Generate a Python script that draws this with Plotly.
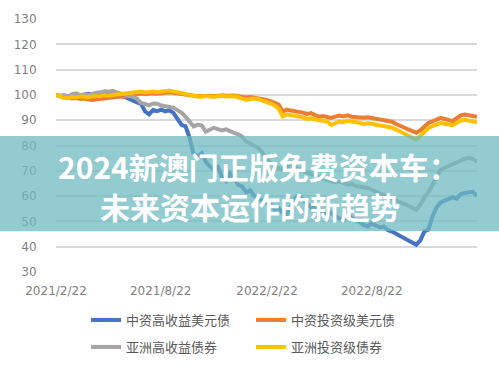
import pandas as pd
import plotly.graph_objects as go

start_date = "2021-02-22"
n_weeks = 105

cn_high_yield = [100.0, 99.6, 99.8, 99.4, 99.9, 100.2, 99.7, 100.1, 100.4, 100.0,
                 100.6, 100.4, 100.9, 100.7, 101.1, 100.6, 99.9, 99.2, 98.5, 97.4,
                 97.0, 96.5, 93.5, 92.3, 94.0, 93.6, 94.2, 93.5, 94.0, 92.9,
                 90.5, 88.2, 87.6, 83.0, 76.5, 75.8, 77.0, 73.5, 71.8, 70.5,
                 71.5, 67.5, 66.0, 69.0, 67.2, 64.5, 63.8, 61.5, 62.3, 60.0,
                 59.2, 58.0, 57.3, 56.5, 54.8, 55.3, 53.4, 52.8, 56.0, 59.0,
                 60.2, 58.6, 57.2, 55.5, 56.3, 54.2, 53.5, 53.0, 53.4, 52.0,
                 51.2, 50.8, 52.0, 51.6, 50.3, 49.8, 48.6, 48.0, 49.2, 48.5,
                 47.6, 47.9, 46.5, 46.0, 45.2, 44.3, 43.5, 42.6, 42.0, 40.8,
                 42.5, 46.0, 46.8, 52.0, 55.5, 57.5, 58.2, 58.8, 59.5, 59.0,
                 60.8, 61.2, 61.5, 61.7, 60.0]

cn_inv_grade = [100.0, 99.5, 99.0, 98.9, 98.6, 98.8, 98.4, 98.6, 98.2, 98.0,
                98.3, 98.5, 98.5, 98.8, 99.0, 99.1, 99.4, 99.3, 99.5, 99.9,
                100.2, 100.5, 100.3, 100.5, 100.6, 100.5, 100.8, 100.9, 101.0, 100.8,
                100.5, 100.3, 100.0, 99.9, 99.7, 99.5, 99.6, 99.8, 99.7, 99.5,
                99.7, 99.9, 99.7, 99.9, 99.8, 99.5, 99.3, 99.0, 99.2, 99.0,
                98.7, 98.4, 98.0, 97.5, 97.0, 96.2, 93.4, 94.2, 93.8, 93.6,
                93.4, 93.0, 92.5, 92.8, 92.0, 91.4, 91.6, 91.3, 90.9, 91.4,
                91.8, 91.5, 91.9, 91.4, 91.3, 91.0, 91.0, 91.2, 90.9, 90.7,
                90.5, 90.3, 90.0, 89.4, 88.5, 87.6, 87.1, 86.4, 85.8, 85.0,
                86.0, 87.5, 88.9, 89.5, 90.2, 90.9, 90.5, 90.0, 89.6, 90.8,
                91.9, 92.2, 92.0, 91.8, 91.4]

asia_high_yield = [100.0, 99.5, 99.8, 99.3, 100.3, 100.6, 99.9, 100.2, 100.0, 100.5,
                   100.9, 101.0, 101.4, 101.3, 101.6, 101.0, 100.4, 100.0, 99.6, 99.3,
                   98.5, 96.8, 96.2, 95.9, 96.6, 96.5, 95.8, 95.6, 95.3, 95.0,
                   94.0, 93.0, 91.4, 89.5, 87.5, 88.3, 87.9, 85.5, 86.2, 87.0,
                   86.5, 86.0, 86.4, 85.5, 85.0, 84.4, 83.5, 81.6, 80.8, 79.8,
                   79.0, 77.2, 74.5, 73.2, 71.8, 71.0, 70.5, 71.8, 72.2, 71.5,
                   71.0, 70.2, 69.3, 68.8, 68.2, 67.6, 66.8, 66.5, 66.0, 65.5,
                   65.8, 65.2, 64.6, 64.8, 64.0, 63.8, 63.6, 63.2, 62.5, 61.8,
                   61.2, 60.6, 59.9, 59.4, 58.6, 57.8, 57.0, 56.2, 55.3, 54.6,
                   56.5, 59.5, 61.5, 64.5, 67.8, 70.4, 71.2, 72.0, 72.8, 73.6,
                   74.3, 74.8, 75.1, 74.6, 73.6]

asia_inv_grade = [100.0, 99.3, 98.8, 98.7, 99.2, 99.0, 99.4, 99.3, 99.1, 99.5,
                  99.4, 99.6, 99.9, 99.7, 100.0, 100.2, 100.4, 100.3, 100.6, 100.9,
                  101.1, 101.3, 101.0, 101.2, 101.3, 101.1, 101.4, 101.6, 101.7, 101.4,
                  101.0, 100.7, 100.4, 100.2, 99.8, 99.4, 99.3, 99.6, 99.4, 99.2,
                  99.5, 99.7, 99.4, 99.6, 99.5, 99.0, 98.6, 98.0, 98.4, 98.6,
                  98.3, 97.8, 97.5, 96.6, 95.8, 94.5, 91.5, 92.3, 92.0, 91.7,
                  91.5, 91.2, 90.5, 90.8, 90.3, 90.0, 89.7, 89.5, 88.1, 88.8,
                  89.5, 89.2, 89.8, 89.5, 89.3, 89.0, 88.5, 88.8, 88.6, 88.3,
                  88.0, 87.8, 87.5, 87.0, 86.3, 85.5, 85.0, 84.1, 83.3, 82.3,
                  83.8, 85.5, 86.9, 87.6, 88.3, 88.9, 88.6, 88.2, 88.0, 89.0,
                  89.9, 90.2, 89.9, 89.6, 89.2]

series_names = ["中资高收益美元债", "中资投资级美元债", "亚洲高收益债券", "亚洲投资级债券"]
series_colors = ["#4472C4", "#ED7D31", "#A5A5A5", "#FFC000"]
series_legends = ["legend", "legend", "legend2", "legend2"]

x_tick_vals = ["2021-02-22", "2021-08-22", "2022-02-22", "2022-08-22"]
x_tick_text = ["2021/2/22", "2021/8/22", "2022/2/22", "2022/8/22"]
y_tick_vals = [30, 40, 50, 60, 70, 80, 90, 100, 110, 120, 130]

title_line1 = "2024新澳门正版免费资本车："
title_line2 = "未来资本运作的新趋势"

dates = pd.date_range(start_date, periods=n_weeks, freq="7D")

fig = go.Figure()
for vals, name, col, lg in zip([cn_high_yield, cn_inv_grade, asia_high_yield, asia_inv_grade],
                               series_names, series_colors, series_legends):
    fig.add_trace(go.Scatter(x=dates, y=vals, mode="lines", name=name,
                             line=dict(color=col, width=4), legend=lg))

W, H = 499, 369
ml, mr, mt, mb = 56, 22, 19, 97
pw, ph = W - ml - mr, H - mt - mb

def px_x(p):
    return (p - ml) / pw

def px_y(p):
    return (H - mb - p) / ph

tick_font = dict(family="DejaVu Sans, sans-serif", size=12, color="#808080")
legend_font = dict(family="Noto Sans CJK SC, sans-serif", size=13, color="#595959")
title_font = dict(family="Noto Sans CJK SC, sans-serif", size=30, color="white", weight="bold")

fig.update_layout(
    width=W, height=H,
    margin=dict(l=ml, r=mr, t=mt, b=mb, autoexpand=False),
    paper_bgcolor="white", plot_bgcolor="white",
    xaxis=dict(range=[dates[0], dates[-1]], tickvals=x_tick_vals, ticktext=x_tick_text,
               showgrid=False, zeroline=False, showline=False,
               ticks="outside", ticklen=8, tickcolor="rgba(0,0,0,0)",
               tickfont=tick_font),
    yaxis=dict(range=[30, 130], tickvals=y_tick_vals, showgrid=True,
               gridcolor="#D9D9D9", gridwidth=1.5, zeroline=False, showline=False,
               ticks="outside", ticklen=16, tickcolor="rgba(0,0,0,0)",
               tickfont=tick_font),
    legend=dict(orientation="h", x=px_x(86), y=px_y(320), xanchor="left", yanchor="middle",
                entrywidth=120, font=legend_font, bgcolor="rgba(0,0,0,0)"),
    legend2=dict(orientation="h", x=px_x(86), y=px_y(347), xanchor="left", yanchor="middle",
                 entrywidth=120, font=legend_font, bgcolor="rgba(0,0,0,0)"),
    shapes=[dict(type="rect", xref="paper", yref="paper",
                 x0=px_x(-2), x1=px_x(W + 2), y0=px_y(231), y1=px_y(136),
                 fillcolor="rgba(110,185,192,0.75)", line=dict(width=0), layer="above")],
    annotations=[
        dict(text=title_line1, xref="paper", yref="paper",
             x=px_x(258), y=px_y(166), xanchor="center", yanchor="middle",
             showarrow=False, font=title_font),
        dict(text=title_line2, xref="paper", yref="paper",
             x=px_x(250), y=px_y(206), xanchor="center", yanchor="middle",
             showarrow=False, font=title_font),
    ],
    showlegend=True,
)

fig.write_html("out.html", config={"displayModeBar": False},
               post_script="document.body.style.margin='0';document.body.style.padding='0';")
